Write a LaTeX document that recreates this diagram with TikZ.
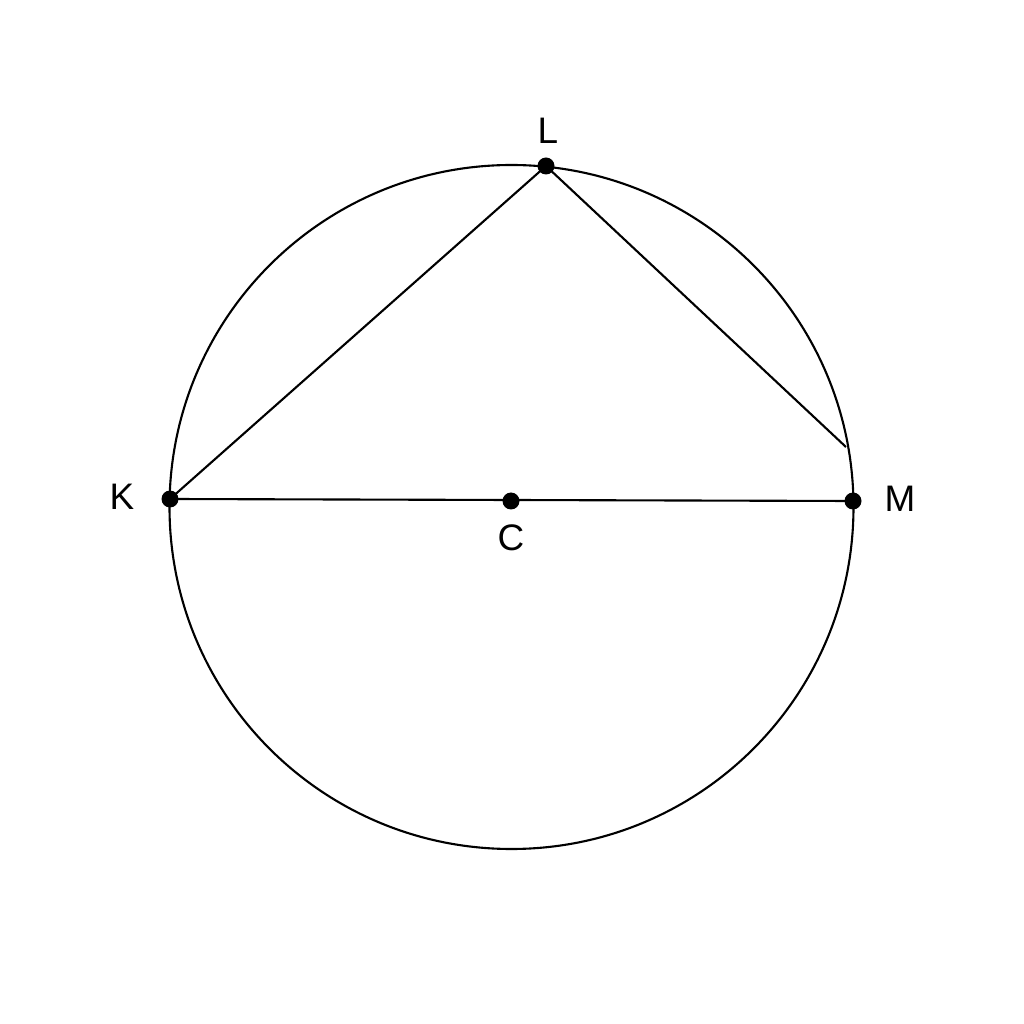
\documentclass[tikz,border=0pt]{standalone}
\usepackage{fontspec}
\setmainfont{Liberation Sans}
\begin{document}
\begin{tikzpicture}[x=1cm,y=1cm,
    dot/.style={circle,fill=black,inner sep=0pt,minimum size=0.17cm},
    lbl/.style={font=\fontsize{10.5}{12}\selectfont}]
      \useasboundingbox (0,0) rectangle (10.24,10.24);
      \draw[line width=0.6pt] (5.115,5.17) circle (3.42);
      \path
        (1.70,5.25) node[dot] (K){}
        (5.46,8.58) node[dot] (L){}
        (8.53,5.23) node[dot] (M){}
        (5.11,5.23) node[dot] (C){};
      \coordinate (E) at (8.46,5.77);
      \path
        (1.22,5.27) node[lbl] (Klbl){K}
        (5.48,8.93) node[lbl] (Llbl){L}
        (9.00,5.25) node[lbl] (Mlbl){M}
        (5.11,4.86) node[lbl] (Clbl){C};
      \begin{scope}[line width=0.6pt]
        \draw (K.center) to (L.center);
        \draw (L.center) to (E);
        \draw (K.center) to (M.center);
      \end{scope}
    \end{tikzpicture}
\end{document}
